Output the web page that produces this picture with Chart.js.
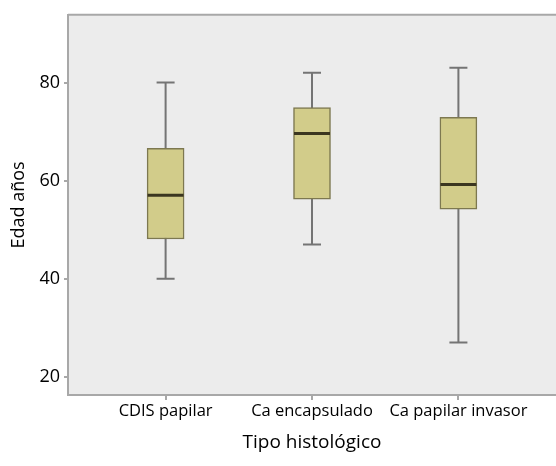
<!DOCTYPE html>
<html>
<head>
<meta charset="utf-8">
<script src="https://cdn.jsdelivr.net/npm/chart.js@4"></script>
<style>
  html, body { margin: 0; padding: 0; background: #fff; }
  #wrap { width: 556px; height: 466px; position: relative; }
</style>
</head>
<body>
<div id="wrap"><canvas id="boxChart"></canvas></div>
<script>
// categories and box statistics
const categories = ['CDIS papilar', 'Ca encapsulado', 'Ca papilar invasor'];
const whiskerLow = [40, 47, 27];
const q1 = [48.1, 56.2, 54.2];
const median = [57, 69.6, 59.2];
const q3 = [66.6, 74.9, 72.9];
const whiskerHigh = [80, 82, 83];
const yTicks = [20, 40, 60, 80];

const fontFamily = '"Open Sans", "Noto Sans", sans-serif';

// whiskers behind boxes, medians on top
const boxExtras = {
    id: 'boxExtras',
    beforeDraw(chart) {
        const { ctx, chartArea: a } = chart;
        ctx.save();
        ctx.fillStyle = '#ececec';
        ctx.fillRect(a.left, a.top, a.right - a.left, a.bottom - a.top);
        ctx.restore();
    },
    beforeDatasetsDraw(chart) {
        const { ctx } = chart;
        const xs = chart.scales.x, ys = chart.scales.y;
        ctx.save();
        ctx.strokeStyle = '#747474';
        ctx.lineWidth = 2;
        categories.forEach((c, i) => {
            const x = xs.getPixelForValue(i + 1);
            ctx.beginPath();
            ctx.moveTo(x, ys.getPixelForValue(whiskerLow[i]));
            ctx.lineTo(x, ys.getPixelForValue(whiskerHigh[i]));
            [whiskerLow[i], whiskerHigh[i]].forEach(v => {
                const y = ys.getPixelForValue(v);
                ctx.moveTo(x - 9, y);
                ctx.lineTo(x + 9, y);
            });
            ctx.stroke();
        });
        // top border of the plot frame
        const a = chart.chartArea;
        ctx.strokeStyle = '#a8a8a8';
        ctx.beginPath();
        ctx.moveTo(a.left, a.top);
        ctx.lineTo(a.right, a.top);
        ctx.stroke();
        ctx.restore();
    },
    afterDatasetsDraw(chart) {
        const { ctx } = chart;
        const xs = chart.scales.x, ys = chart.scales.y;
        ctx.save();
        ctx.strokeStyle = '#3b3620';
        ctx.lineWidth = 3;
        median.forEach((m, i) => {
            const x = xs.getPixelForValue(i + 1);
            const y = ys.getPixelForValue(m);
            ctx.beginPath();
            ctx.moveTo(x - 18, y);
            ctx.lineTo(x + 18, y);
            ctx.stroke();
        });
        ctx.restore();
    }
};

new Chart(document.getElementById('boxChart'), {
    type: 'bar',
    data: {
        datasets: [{
            data: categories.map((c, i) => ({ x: i + 1, y: [q1[i], q3[i]] })),
            backgroundColor: '#d2cc8a',
            borderColor: '#7d7850',
            borderWidth: 1.5,
            borderSkipped: false,
            barThickness: 37
        }]
    },
    options: {
        responsive: true,
        maintainAspectRatio: false,
        animation: false,
        layout: { padding: { top: 14, right: 0, left: 0, bottom: 12 } },
        plugins: { legend: { display: false }, tooltip: { enabled: false } },
        scales: {
            x: {
                type: 'linear',
                min: 1 / 3,
                max: 11 / 3,
                offset: false,
                afterBuildTicks: axis => { axis.ticks = categories.map((c, i) => ({ value: i + 1 })); },
                afterFit: axis => { axis.height = 59; },
                ticks: {
                    callback: v => categories[v - 1],
                    color: '#000',
                    font: { family: fontFamily, size: 16.5 },
                    padding: 1,
                    maxRotation: 0,
                    autoSkip: false
                },
                grid: { offset: false, drawOnChartArea: false, tickLength: 5, color: '#a8a8a8', lineWidth: 2 },
                border: { color: '#a8a8a8', width: 2 },
                title: {
                    display: true,
                    text: 'Tipo histológico',
                    color: '#000',
                    font: { family: fontFamily, size: 19 },
                    padding: { top: 0, bottom: 0 }
                }
            },
            y: {
                min: 16.3,
                max: 93.8,
                afterBuildTicks: axis => { axis.ticks = yTicks.map(v => ({ value: v })); },
                afterFit: axis => { axis.width = 68; },
                ticks: {
                    color: '#000',
                    font: { family: fontFamily, size: 18 },
                    padding: 4
                },
                grid: { drawOnChartArea: false, tickLength: 4, color: '#a8a8a8', lineWidth: 2 },
                border: { color: '#a8a8a8', width: 2 },
                title: {
                    display: true,
                    text: 'Edad años',
                    color: '#000',
                    font: { family: fontFamily, size: 18 },
                    padding: { top: 8, bottom: 0 }
                }
            }
        }
    },
    plugins: [boxExtras]
});
</script>
</body>
</html>
